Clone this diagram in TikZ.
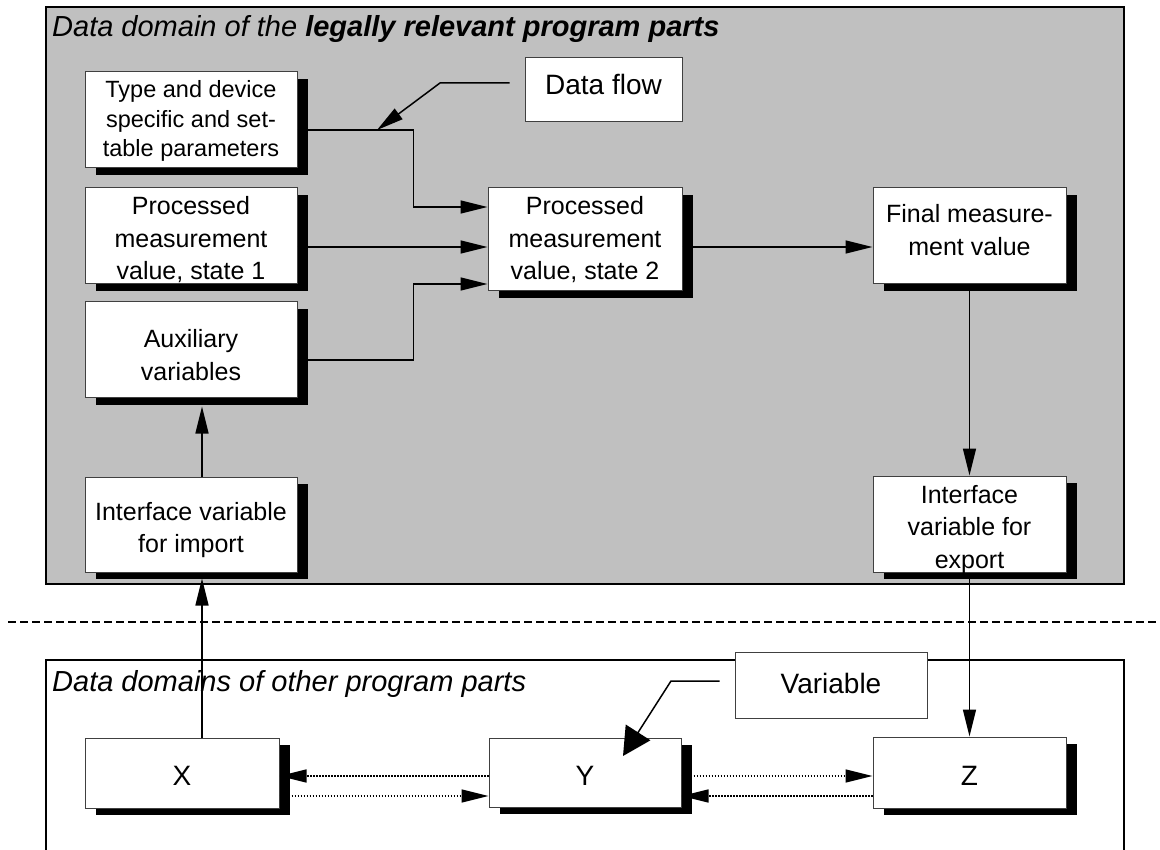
\documentclass[tikz,border=0pt]{standalone}
\usepackage{fontspec}
\setmainfont{Liberation Sans}
\usetikzlibrary{arrows.meta,shadows,calc}

\definecolor{panelgray}{HTML}{C0C0C0}

% box text: first baseline raised by #1 above the box centre
\newcommand{\btext}[2]{\raisebox{#1}[0pt][0pt]{\begin{tabular}[t]{@{}c@{}}#2\end{tabular}}}

\tikzset{
  panel/.style={draw=black, line width=1.5pt},
  bx/.style={draw=black!75, line width=1pt, fill=white, inner sep=0pt,
    drop shadow={shadow xshift=10.5pt, shadow yshift=-7pt, fill=black, opacity=1},
    font=\fontsize{25}{32.5}\selectfont},
  callout/.style={draw=black!75, line width=1pt, fill=white, inner sep=0pt,
    font=\fontsize{28}{32}\selectfont},
  conn/.style={line width=1.5pt, -{Triangle[length=27pt,width=13pt]}},
  bigtip/.style={line width=1.5pt, -{Triangle[length=28pt,width=29pt]}},
  dotconn/.style={conn, dash pattern=on 1.4pt off 1.6pt},
  sepline/.style={line width=1.2pt, dash pattern=on 8pt off 4pt},
  heading/.style={anchor=base west, inner sep=0pt, font=\fontsize{29}{34}\selectfont\itshape},
}

\begin{document}
\begin{tikzpicture}[x=1pt, y=-1pt]
\useasboundingbox (0,0) rectangle (1160,850);
\clip (0,0) rectangle (1160,850);

% upper domain
\path[panel, fill=panelgray] (46,7) rectangle (1124,584);
\node[heading] (toptitle) at (52,37) {Data domain of the \bfseries legally relevant program parts};

% separator
\coordinate (sepL) at (8,622);
\coordinate (sepR) at (1160,622);
\draw[sepline] (sepL) -- (sepR);

% lower domain (open towards the bottom)
\draw[panel] (46,870) -- (46,660) -- (1124,660) -- (1124,870);
\node[heading] (bottitle) at (52,691) {Data domains of other program parts};

% boxes of the legally relevant part
\node[bx, minimum width=212pt, minimum height=96pt, font=\fontsize{23.5}{29.5}\selectfont] (p1) at (191,120)
  {\btext{22pt}{Type and device\\specific and set-\\table parameters}};
\node[bx, minimum width=212pt, minimum height=96pt] (p2) at (191,236)
  {\btext{21pt}{Processed\\measurement\\value, state 1}};
\node[bx, minimum width=212pt, minimum height=96pt] (aux) at (191,350)
  {\btext{2pt}{Auxiliary\\variables}};
\node[bx, minimum width=212pt, minimum height=95pt] (imp) at (191,524.5)
  {\btext{4.5pt}{Interface variable\\for import}};
\node[bx, minimum width=194pt, minimum height=103pt] (mid) at (585,239.5)
  {\btext{24.5pt}{Processed\\measurement\\value, state 2}};
\node[bx, minimum width=193pt, minimum height=96pt] (fin) at (969.5,236)
  {\btext{13pt}{Final measure-\\ment value}};
\node[bx, minimum width=193pt, minimum height=96pt] (exp) at (969.5,524)
  {\btext{21pt}{Interface\\variable for\\export}};

% boxes of the other parts
\node[bx, minimum width=194pt, minimum height=70pt, font=\fontsize{28}{32}\selectfont] (X) at (182,773)
  {\btext{-12pt}{X}};
\node[bx, minimum width=192pt, minimum height=69pt, font=\fontsize{28}{32}\selectfont] (Y) at (585,772.5)
  {\btext{-12.5pt}{Y}};
\node[bx, minimum width=193pt, minimum height=71pt, font=\fontsize{28}{32}\selectfont] (Z) at (969.5,772.5)
  {\btext{-12.5pt}{Z}};

% legend callouts
\node[callout, minimum width=157pt, minimum height=64pt] (df) at (603.5,90) {\btext{-5pt}{Data flow}};
\node[callout, minimum width=192pt, minimum height=66pt] (var) at (831,685) {\btext{-8pt}{Variable}};

% data flow inside the legally relevant part
\draw[conn] ($(p1.east)+(0,10)$) -- ++(116,0) |- ($(mid.west)+(0,-32.5)$);
\draw[conn] ($(p2.east)+(0,11)$) coordinate (r2) -- (r2 -| mid.west);
\draw[conn] ($(aux.east)+(0,10)$) -- ++(116,0) |- ($(mid.west)+(0,44.5)$);
\draw[conn] ($(mid.east)+(0,7.5)$) coordinate (r4) -- (r4 -| fin.west);
\draw[conn] (fin.south) -- (exp.north);
\draw[conn] ($(imp.north)+(11,0)$) -- ($(aux.south)+(11,8)$);

% flows across the boundary
\draw[conn] ($(X.north)+(20,0)$) -- ($(imp.south)+(11,6)$);
\draw[conn] (exp.south) -- (Z.north);

% variable exchange between the other parts
\coordinate (rowA) at (0,776);
\coordinate (rowB) at (0,796);
\draw[dotconn] (Y.west |- rowA) -- (X.east |- rowA);
\draw[dotconn] (X.east |- rowB) -- (Y.west |- rowB);
\draw[dotconn] (Y.east |- rowA) -- (Z.west |- rowA);
\draw[dotconn] (Z.west |- rowB) -- (Y.east |- rowB);

% leader lines of the callouts
\coordinate (dfa) at ($(df.west)+(-15,-7)$);
\coordinate (dfb) at (440,83);
\coordinate (dfc) at (377,130);
\draw[conn] (dfa) -- (dfb) -- (dfc);
\coordinate (va) at ($(var.west)+(-15,-4)$);
\coordinate (vb) at (671,681);
\coordinate (vc) at (623,756);
\draw[bigtip] (va) -- (vb) -- (vc);
\end{tikzpicture}
\end{document}
